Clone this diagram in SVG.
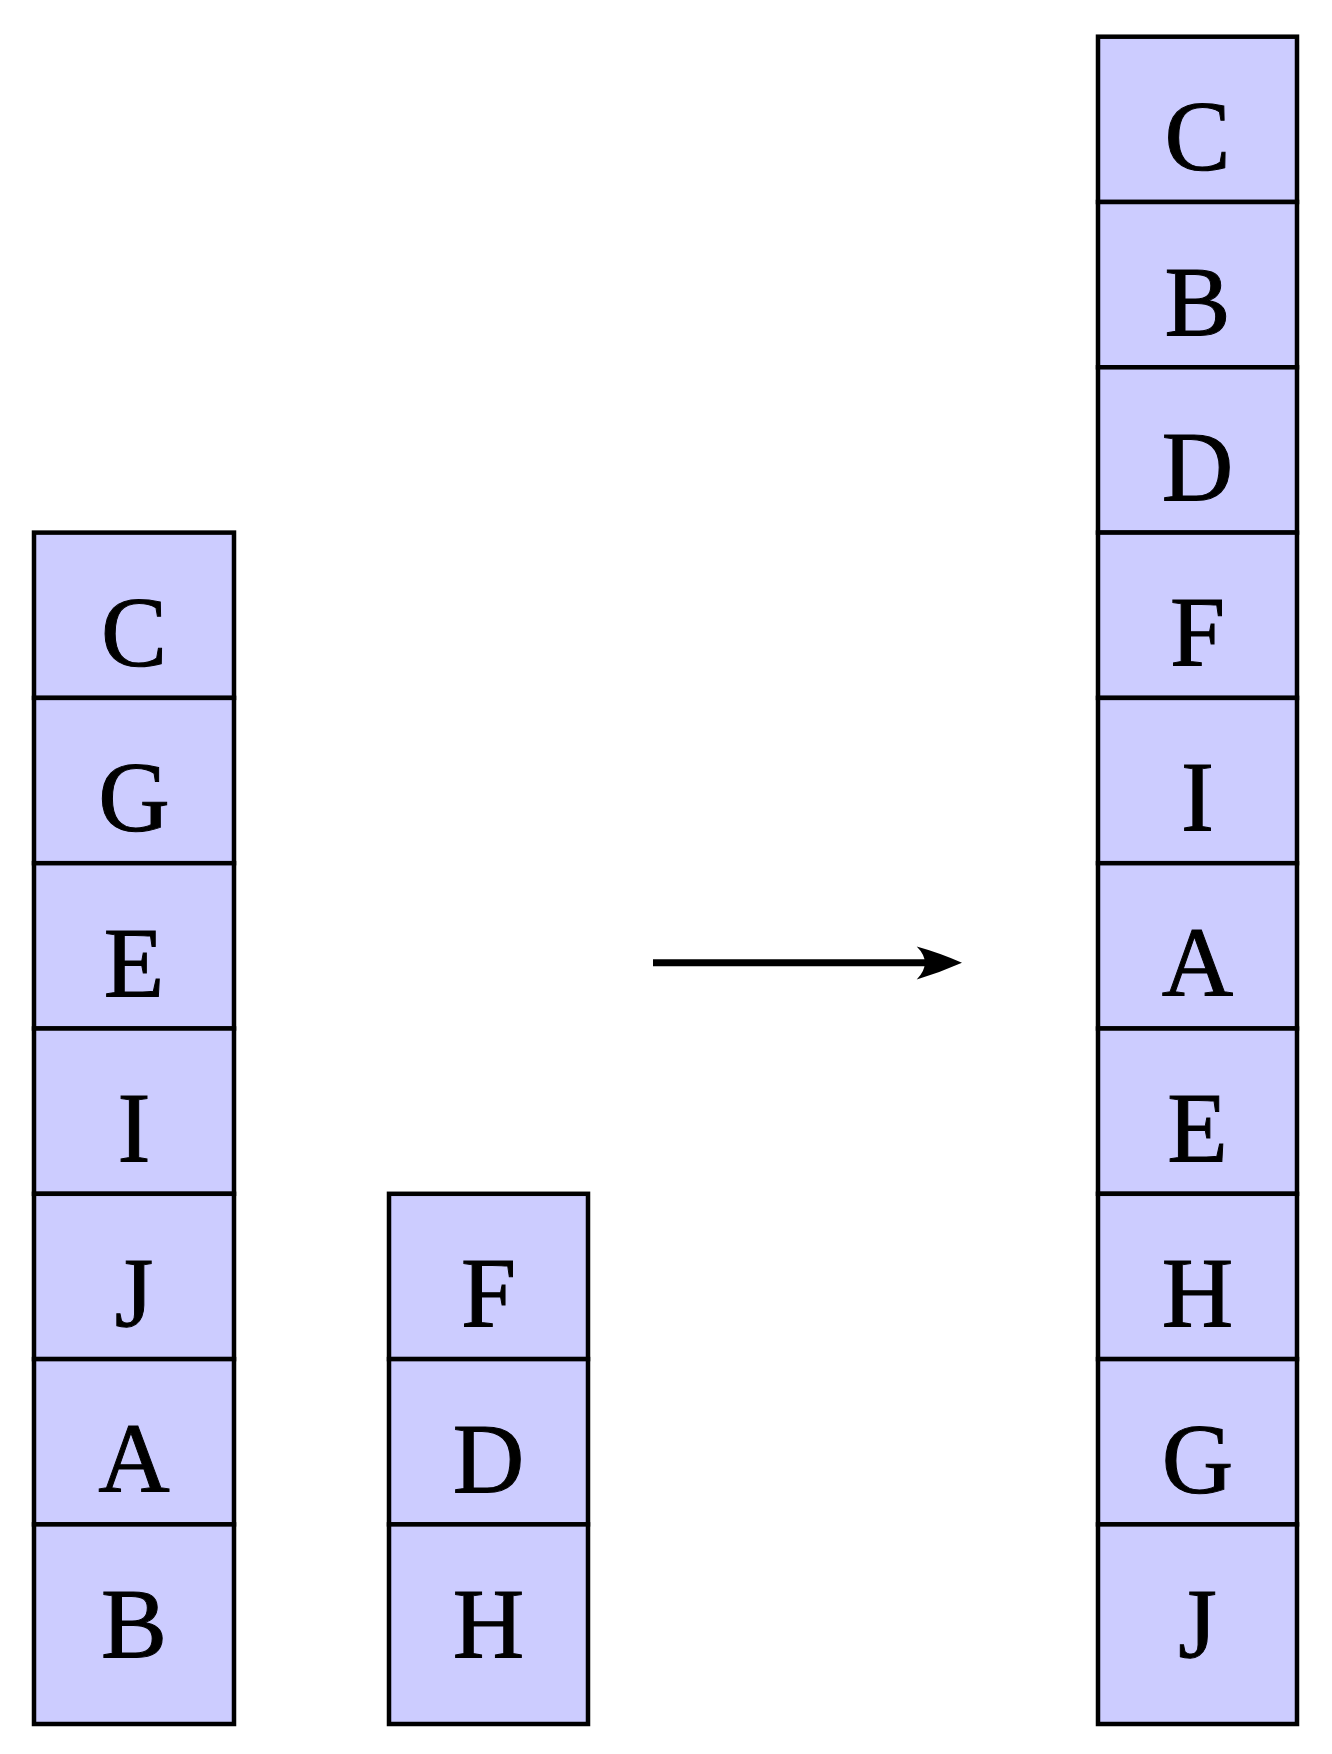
<svg xmlns="http://www.w3.org/2000/svg" width="1332" height="1754" viewBox="0 0 1332 1754">
<style>
.cell{fill:#CCCCFF;stroke:#000;stroke-width:4.5}
.lbl{font-family:"Liberation Serif","Times New Roman",serif;font-size:99px;fill:#000;stroke:#000;stroke-width:1;text-anchor:middle}
</style>
<rect width="1332" height="1754" fill="#fff"/>
<g id="stack-left">
<g id="L1"><rect class="cell" x="34" y="532.6" width="200" height="165.3"/><text class="lbl" x="134" y="665.1">C</text></g>
<g id="L2"><rect class="cell" x="34" y="697.9" width="200" height="165.3"/><text class="lbl" x="134" y="830.4">G</text></g>
<g id="L3"><rect class="cell" x="34" y="863.2" width="200" height="165.3"/><text class="lbl" x="134" y="995.7">E</text></g>
<g id="L4"><rect class="cell" x="34" y="1028.5" width="200" height="165.3"/><text class="lbl" x="134" y="1161">I</text></g>
<g id="L5"><rect class="cell" x="34" y="1193.8" width="200" height="165.3"/><text class="lbl" x="134" y="1326.3">J</text></g>
<g id="L6"><rect class="cell" x="34" y="1359.1" width="200" height="165.3"/><text class="lbl" x="134" y="1491.6">A</text></g>
<g id="L7"><rect class="cell" x="34" y="1524.4" width="200" height="199.6"/><text class="lbl" x="134" y="1656.9">B</text></g>
</g>
<g id="stack-middle">
<g id="M1"><rect class="cell" x="389" y="1193.8" width="199" height="165.3"/><text class="lbl" x="488.5" y="1326.3">F</text></g>
<g id="M2"><rect class="cell" x="389" y="1359.1" width="199" height="165.3"/><text class="lbl" x="488.5" y="1491.6">D</text></g>
<g id="M3"><rect class="cell" x="389" y="1524.4" width="199" height="199.6"/><text class="lbl" x="488.5" y="1656.9">H</text></g>
</g>
<g id="stack-right">
<g id="R1"><rect class="cell" x="1098" y="36.7" width="199" height="165.3"/><text class="lbl" x="1197.5" y="169.2">C</text></g>
<g id="R2"><rect class="cell" x="1098" y="202" width="199" height="165.3"/><text class="lbl" x="1197.5" y="334.5">B</text></g>
<g id="R3"><rect class="cell" x="1098" y="367.3" width="199" height="165.3"/><text class="lbl" x="1197.5" y="499.8">D</text></g>
<g id="R4"><rect class="cell" x="1098" y="532.6" width="199" height="165.3"/><text class="lbl" x="1197.5" y="665.1">F</text></g>
<g id="R5"><rect class="cell" x="1098" y="697.9" width="199" height="165.3"/><text class="lbl" x="1197.5" y="830.4">I</text></g>
<g id="R6"><rect class="cell" x="1098" y="863.2" width="199" height="165.3"/><text class="lbl" x="1197.5" y="995.7">A</text></g>
<g id="R7"><rect class="cell" x="1098" y="1028.5" width="199" height="165.3"/><text class="lbl" x="1197.5" y="1161">E</text></g>
<g id="R8"><rect class="cell" x="1098" y="1193.8" width="199" height="165.3"/><text class="lbl" x="1197.5" y="1326.3">H</text></g>
<g id="R9"><rect class="cell" x="1098" y="1359.1" width="199" height="165.3"/><text class="lbl" x="1197.5" y="1491.6">G</text></g>
<g id="R10"><rect class="cell" x="1098" y="1524.4" width="199" height="199.6"/><text class="lbl" x="1197.5" y="1656.9">J</text></g>
</g>
<g id="connectors">
<line x1="653" y1="962.8" x2="935" y2="962.8" stroke="#000" stroke-width="7"/>
<path d="M962,962.8 Q940,953 916.7,946.5 Q933,962.8 916.7,979.5 Q940,972.6 962,962.8 Z" fill="#000"/>
</g>
</svg>
